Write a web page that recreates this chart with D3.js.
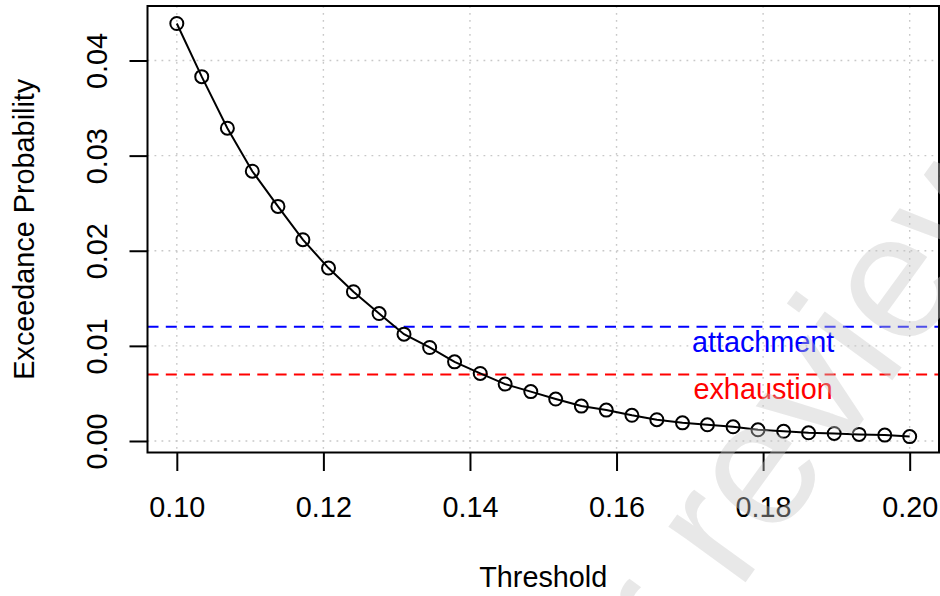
<!DOCTYPE html>
<html>
<head>
<meta charset="utf-8">
<script src="https://cdn.jsdelivr.net/npm/d3@7"></script>
<style>
    body { margin: 0; background: #fff; }
    svg { display: block; font-family: "Liberation Sans", Arial, Helvetica, sans-serif; }
</style>
</head>
<body>
<div id="chart"></div>
<script>
// threshold grid and exceedance probabilities
const thresholds = [0.1000, 0.1034, 0.1069, 0.1103, 0.1138, 0.1172, 0.1207, 0.1241, 0.1276, 0.1310,
    0.1345, 0.1379, 0.1414, 0.1448, 0.1483, 0.1517, 0.1552, 0.1586, 0.1621, 0.1655,
    0.1690, 0.1724, 0.1759, 0.1793, 0.1828, 0.1862, 0.1897, 0.1931, 0.1966, 0.2000];
const exceedProb = [0.04389, 0.03830, 0.03288, 0.02836, 0.02466, 0.02116, 0.01818, 0.01569, 0.01340, 0.01123,
    0.00983, 0.00832, 0.00710, 0.00598, 0.00519, 0.00441, 0.00367, 0.00325, 0.00270, 0.00224,
    0.00191, 0.00170, 0.00149, 0.00118, 0.00102, 0.00086, 0.00079, 0.00069, 0.00062, 0.00046];

// horizontal reference levels
const refNames = ["attachment", "exhaustion"];
const refLevels = [0.012, 0.007];
const refColors = ["#0000ff", "#ff0000"];
const refLabelX = 0.18;

const xTicks = [0.10, 0.12, 0.14, 0.16, 0.18, 0.20];
const yTicks = [0.00, 0.01, 0.02, 0.03, 0.04];

const width = 940;
const height = 596;
const plotLeft = 147.5, plotRight = 939, plotTop = 6, plotBottom = 452.5;
const fontSize = 28.8;

const svg = d3.select("#chart")
    .append("svg")
    .attr("width", width)
    .attr("height", height);

svg.append("rect").attr("width", width).attr("height", height).attr("fill", "#fff");

// R style 4% padding around the data range
const x = d3.scaleLinear().domain([0.096, 0.204]).range([plotLeft, plotRight]);
const y = d3.scaleLinear().domain([-0.00121, 0.04573]).range([plotBottom, plotTop]);

// dotted grid
const grid = svg.append("g")
    .attr("stroke", "#c8c8c8")
    .attr("stroke-width", 1.4)
    .attr("stroke-dasharray", "1.8,5.2");
grid.selectAll("line.gx")
    .data(xTicks)
    .enter().append("line")
    .attr("x1", d => x(d)).attr("x2", d => x(d))
    .attr("y1", plotTop).attr("y2", plotBottom);
grid.selectAll("line.gy")
    .data(yTicks)
    .enter().append("line")
    .attr("x1", plotLeft).attr("x2", plotRight)
    .attr("y1", d => y(d)).attr("y2", d => y(d));

// reference lines
svg.selectAll("line.ref")
    .data(refLevels)
    .enter().append("line")
    .attr("x1", plotLeft).attr("x2", plotRight)
    .attr("y1", d => y(d)).attr("y2", d => y(d))
    .attr("stroke", (d, i) => refColors[i])
    .attr("stroke-width", 2)
    .attr("stroke-dasharray", "11,7.3");

svg.selectAll("text.ref")
    .data(refNames)
    .enter().append("text")
    .attr("x", x(refLabelX))
    .attr("y", (d, i) => y(refLevels[i]) + 25)
    .attr("text-anchor", "middle")
    .attr("font-size", fontSize)
    .attr("fill", (d, i) => refColors[i])
    .text(d => d);

// curve and points
const pts = thresholds.map((t, i) => [t, exceedProb[i]]);
svg.append("path")
    .datum(pts)
    .attr("fill", "none")
    .attr("stroke", "#000")
    .attr("stroke-width", 2)
    .attr("d", d3.line().x(d => x(d[0])).y(d => y(d[1])));

svg.selectAll("circle.pt")
    .data(pts)
    .enter().append("circle")
    .attr("cx", d => x(d[0]))
    .attr("cy", d => y(d[1]))
    .attr("r", 6.5)
    .attr("fill", "none")
    .attr("stroke", "#000")
    .attr("stroke-width", 2);

// box
svg.append("rect")
    .attr("x", plotLeft).attr("y", plotTop)
    .attr("width", plotRight - plotLeft).attr("height", plotBottom - plotTop)
    .attr("fill", "none")
    .attr("stroke", "#000")
    .attr("stroke-width", 2);

// axes
const xAxis = svg.append("g")
    .attr("transform", `translate(0,${plotBottom})`)
    .call(d3.axisBottom(x).tickValues(xTicks).tickFormat(d3.format(".2f")).tickSize(18.5).tickSizeOuter(0));
xAxis.select(".domain").remove();
xAxis.selectAll(".tick line").attr("stroke", "#000").attr("stroke-width", 2);
xAxis.selectAll(".tick text")
    .attr("y", 64.5).attr("dy", null)
    .attr("font-size", fontSize)
    .attr("fill", "#000");
xAxis.attr("font-family", null).attr("font-size", null);

const yAxis = svg.append("g")
    .attr("transform", `translate(${plotLeft},0)`)
    .call(d3.axisLeft(y).tickValues(yTicks).tickFormat(d3.format(".2f")).tickSize(18).tickSizeOuter(0));
yAxis.select(".domain").remove();
yAxis.selectAll(".tick line").attr("stroke", "#000").attr("stroke-width", 2);
yAxis.selectAll(".tick text")
    .attr("transform", "rotate(-90)")
    .attr("x", 0).attr("y", -40.5).attr("dy", null)
    .attr("text-anchor", "middle")
    .attr("font-size", fontSize)
    .attr("fill", "#000");
yAxis.attr("font-family", null).attr("font-size", null);

// axis titles
svg.append("text")
    .attr("x", (plotLeft + plotRight) / 2)
    .attr("y", 587)
    .attr("text-anchor", "middle")
    .attr("font-size", fontSize)
    .text("Threshold");

svg.append("text")
    .attr("transform", `translate(34,${(plotTop + plotBottom) / 2}) rotate(-90)`)
    .attr("text-anchor", "middle")
    .attr("font-size", fontSize)
    .text("Exceedance Probability");

// watermark over the figure
svg.append("text")
    .attr("transform", "translate(309,1183) rotate(-54)")
    .attr("font-size", 180)
    .attr("fill", "#c6c6c6")
    .attr("fill-opacity", 0.4)
    .text("For peer review only");
</script>
</body>
</html>
